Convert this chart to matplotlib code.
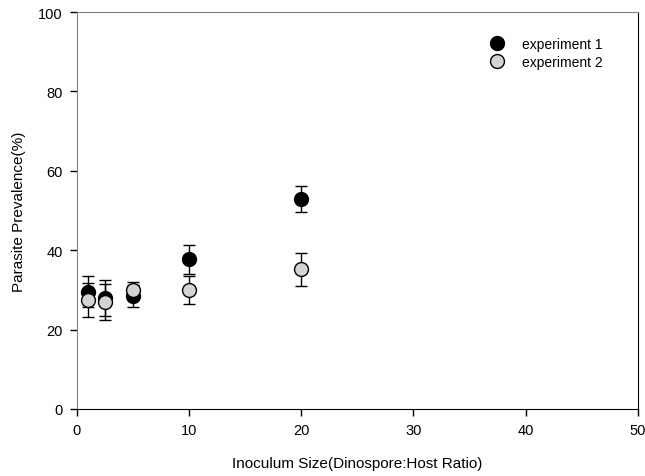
import matplotlib.pyplot as plt

plt.rcParams['font.family'] = ['Liberation Sans', 'DejaVu Sans']

ratio = [1, 2.5, 5, 10, 20]
exp1 = [29.6, 28.0, 28.5, 37.7, 53.0]
exp1_err = [3.8, 4.5, 2.7, 3.7, 3.3]
exp2 = [27.5, 27.0, 30.0, 30.0, 35.2]
exp2_err = [4.3, 4.5, 2.0, 3.5, 4.2]

fig = plt.figure(figsize=(6.45, 4.77), dpi=100)
ax = fig.add_axes([0.119, 0.1405, 0.87, 0.832])

ax.errorbar(ratio, exp1, yerr=exp1_err, fmt='o', color='black', mfc='black', mec='black',
            ms=10, ecolor='black', elinewidth=1, capsize=4, capthick=1, label='experiment 1', zorder=3)
ax.errorbar(ratio, exp2, yerr=exp2_err, fmt='o', color='black', mfc='#d3d3d3', mec='black',
            ms=10, mew=1, ecolor='black', elinewidth=1, capsize=4, capthick=1, label='experiment 2', zorder=4)

ax.set_xlim(0, 50)
ax.set_ylim(0, 100)
ax.set_xticks([0, 10, 20, 30, 40, 50])
ax.set_yticks([0, 20, 40, 60, 80, 100])
ax.tick_params(direction='out', length=5, width=1, labelsize=10.5, pad=5)
ax.spines['left'].set_color('#808080')
ax.spines['top'].set_color('#808080')
ax.spines['right'].set_color('black')
ax.spines['bottom'].set_color('black')
ax.set_xlabel('Inoculum Size(Dinospore:Host Ratio)', fontsize=11, labelpad=14)
ax.set_ylabel('Parasite Prevalence(%)', fontsize=11, labelpad=9)

h, l = ax.get_legend_handles_labels()
h = [x[0] for x in h]
ax.legend(h, l, loc='upper right', bbox_to_anchor=(0.96, 0.97), frameon=False, fontsize=10,
          handletextpad=0.8, labelspacing=0.3)

fig.savefig('out.png', dpi=100)
